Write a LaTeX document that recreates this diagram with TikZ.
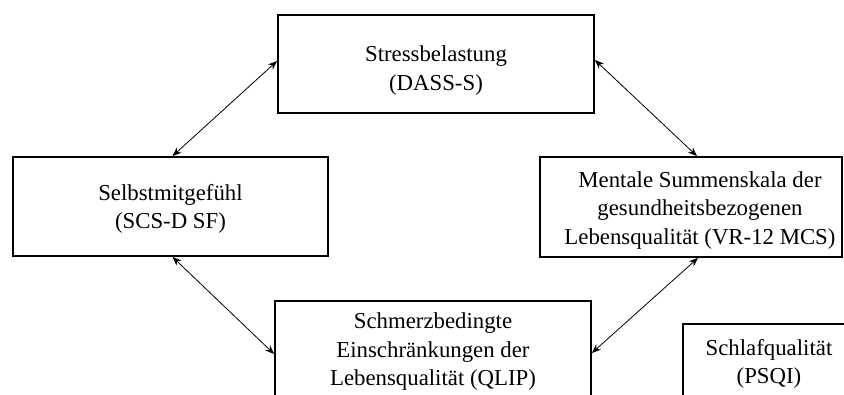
\documentclass[tikz,border=0pt]{standalone}
\usepackage{fontspec}
\setmainfont{Liberation Serif}
\usetikzlibrary{arrows.meta}
% strut of the given height at the start of a first line, to set the text a little lower
\newcommand\firstline[1]{\rule{0pt}{#1}}
% pushes a centred line a little to the right
\newcommand\nudge{\hspace*{18pt}}
\tikzset{
  box/.style={draw, line width=1.8pt, rectangle, align=center, inner sep=0pt,
    font=\fontsize{22.8}{28.5}\selectfont},
  link/.style={line width=0.8pt, {Stealth[length=9pt,width=7pt]}-{Stealth[length=9pt,width=7pt]}}
}
\begin{document}
\begin{tikzpicture}[x=1pt,y=-1pt]
  \useasboundingbox (0,0) rectangle (844,394);
  \fill[white] (0,0) rectangle (844,394);
  \clip (0,0) rectangle (844,394);

  \node[box, minimum width=316pt, minimum height=98pt] (stress) at (436,64)
    {\firstline{28.5pt}Stressbelastung\\(DASS-S)};
  \node[box, minimum width=315pt, minimum height=99pt] (selbst) at (170.5,206.5)
    {\firstline{20.5pt}Selbstmitgefühl\\(SCS-D SF)};
  \node[box, minimum width=302pt, minimum height=100pt] (mental) at (691,207)
    {\nudge\firstline{22pt}Mentale Summenskala der\\\nudge gesundheitsbezogenen\\\nudge Lebensqualität (VR-12 MCS)};
  \node[box, minimum width=316pt, minimum height=102pt] (schmerz) at (433,352)
    {Schmerzbedingte\\Einschränkungen der\\Lebensqualität (QLIP)};
  \node[box, minimum width=172pt, minimum height=74pt] (schlaf) at (769,361)
    {\firstline{21.5pt}Schlafqualität\\(PSQI)};

  \draw[link] ([xshift=2pt]selbst.north) -- ([yshift=3pt]stress.west);
  \draw[link] ([yshift=4pt]stress.east) -- ([xshift=6pt]mental.north);
  \draw[link] ([xshift=2pt]selbst.south) -- ([yshift=-2pt]schmerz.west);
  \draw[link] ([xshift=7pt]mental.south) -- ([yshift=-1pt]schmerz.east);
\end{tikzpicture}
\end{document}
